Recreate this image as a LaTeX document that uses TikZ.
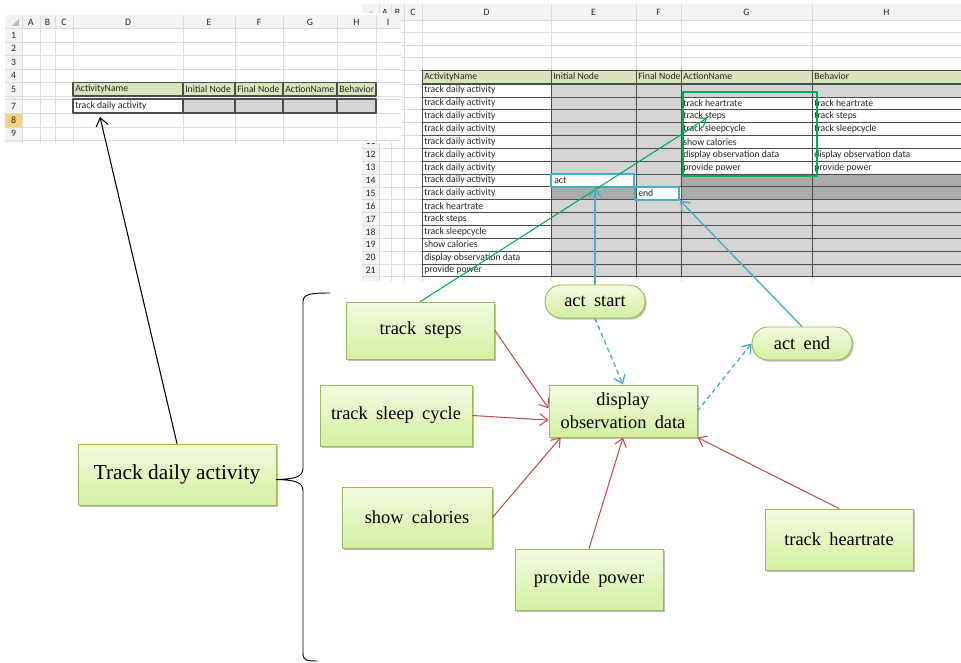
\documentclass[tikz,border=0pt]{standalone}
\usepackage{fontspec}
\setmainfont{Liberation Serif}
\newfontfamily\boxfont{Liberation Serif}[WordSpace=1.8]
\newfontfamily\xlfont{Carlito}
\usetikzlibrary{arrows.meta,shadows}
\definecolor{xlgrid}{HTML}{DADCDD}
\definecolor{xlbar}{HTML}{F3F3F3}
\definecolor{xlhead}{HTML}{D8E4BC}
\definecolor{xlgray}{HTML}{D4D4D4}
\definecolor{xldark}{HTML}{ABABAB}
\definecolor{xlrow}{HTML}{F9D27A}
\definecolor{boxline}{HTML}{9BBB59}
\definecolor{boxtop}{HTML}{F2FBE0}
\definecolor{boxbot}{HTML}{D4F0A2}
\definecolor{redline}{HTML}{C0504D}
\definecolor{blueline}{HTML}{4BACC6}
\definecolor{greenline}{HTML}{00B050}
\tikzset{
  xl/.style={font=\xlfont\fontsize{7.3}{8}\selectfont, inner sep=0pt, text=black!85},
  xlleft/.style={xl, anchor=west},
  cellbox/.style={draw=blueline, line width=1.5pt, minimum height=9.6pt, inner sep=0pt},
  box/.style={draw=boxline, line width=0.7pt, top color=boxtop, bottom color=boxbot,
    drop shadow={shadow xshift=1.2pt, shadow yshift=-1.2pt, fill=black, opacity=0.25},
    minimum width=111pt, minimum height=45.75pt, inner sep=2pt, align=center,
    font=\boxfont\fontsize{13.8}{17}\selectfont},
  pill/.style={box, rounded corners=12pt, minimum width=75pt, minimum height=24.75pt},
  redarrow/.style={->, redline, line width=0.8pt},
  bluearrow/.style={->, blueline, line width=1pt},
}
\begin{document}
\begin{tikzpicture}[x=0.75pt, y=-0.75pt, line join=round, line cap=round, >={Straight Barb[length=6pt,width=9pt]}]
\useasboundingbox (0,0) rectangle (961,663);
\def\rowtop{84} \def\rowh{12.85} % rows 7.. of the right sheet
% right sheet
\fill[xlbar] (362,4) rectangle (961,20);
\fill[xlbar] (362,20) rectangle (379,281);
\fill[gray!50] (365,17) -- (372,17) -- (372,10) -- cycle;
\foreach \x in {379,391,404,422,551,636,681,812} \draw[xlgrid] (\x,4) -- (\x,281);
\foreach \y in {20,32.5,45,57.5,70} \draw[xlgrid] (362,\y) -- (961,\y);
\foreach \r in {7,...,22} \draw[xlgrid] (362,{\rowtop+(\r-7)*\rowh}) -- (422,{\rowtop+(\r-7)*\rowh});
\foreach \c/\x in {A/385,B/397.5,C/413,D/486.5,E/593.5,F/658.5,G/746.5,H/886.5}
  \node[xl] (rc\c) at (\x,12) {\c};
\foreach \r in {11,...,21} \node[xl] (rr\r) at (370.5,{\rowtop+(\r-7)*\rowh+6.4}) {\r};
\fill[xlhead] (422,70) rectangle (961,83);
\fill[xlgray] (551,\rowtop) rectangle (961,276.75);
\fill[white] (681,96.85) rectangle (961,173.95);
\fill[xldark] (681,173.95) rectangle (961,199.65) (551,186.8) rectangle (636,199.65);
\fill[white] (551,173.95) rectangle (636,186.8) (636,186.8) rectangle (681,199.65);
\foreach \x in {422,551,636,681,812} \draw[black!70, line width=0.5pt] (\x,70) -- (\x,276.75);
\draw[black!70, line width=0.5pt] (422,70) -- (961,70) (422,83) -- (961,83);
\foreach \r in {7,...,22} \draw[black!70, line width=0.5pt] (422,{\rowtop+(\r-7)*\rowh}) -- (961,{\rowtop+(\r-7)*\rowh});
\foreach \c/\x/\t in {D/422/ActivityName,E/551/Initial Node,F/636/Final Node,G/681/ActionName,H/812/Behavior}
  \node[xlleft] (hd\c) at ({\x+2},76.5) {\t};
\foreach \r in {7,...,15} \node[xlleft] (rd\r) at (424,{\rowtop+(\r-7)*\rowh+6.4}) {track daily activity};
\foreach \r/\t in {16/track heartrate,17/track steps,18/track sleepcycle,19/show calories,20/display observation data,21/provide power}
  \node[xlleft] (rd\r) at (424,{\rowtop+(\r-7)*\rowh+6.4}) {\t};
\foreach \r/\t in {8/track heartrate,9/track steps,10/track sleepcycle,11/show calories,12/display observation data,13/provide power}
  \node[xlleft] (rg\r) at (683,{\rowtop+(\r-7)*\rowh+6.4}) {\t};
\foreach \r/\t in {8/track heartrate,9/track steps,10/track sleepcycle,12/display observation data,13/provide power}
  \node[xlleft] (rh\r) at (814,{\rowtop+(\r-7)*\rowh+6.4}) {\t};
\node[cellbox, minimum width=62.25pt] (actcell) at (592.5,180.4) {};
\node[cellbox, minimum width=33pt] (endcell) at (657,193.2) {};
\node[xlleft] (acttext) at (554,180.4) {act};
\node[xlleft] (endtext) at (638,193.2) {end};
\draw[greenline, line width=1.4pt] (683,92) rectangle (817,176);
\coordinate (gsteps) at (707,118);
% left sheet, on top
\fill[white] (0,13) rectangle (401,143);
\fill[xlbar] (5,15) rectangle (401,28);
\fill[xlbar] (5,28) rectangle (22,143);
\fill[xlrow] (5,113) rectangle (22,127);
\fill[gray!50] (12,26) -- (19,26) -- (19,19) -- cycle;
\foreach \x in {22,40,55,73,183,235,283,337,376} \draw[xlgrid] (\x,15) -- (\x,143);
\foreach \y in {28,42,55.5,69,82.5,96,99,113,127,140} \draw[xlgrid] (5,\y) -- (401,\y);
\foreach \c/\x in {A/31,B/47.5,C/64,D/128,E/209,F/259,G/310,H/356.5,I/388}
  \node[xl] (lc\c) at (\x,22) {\c};
\foreach \r/\y in {1/35,2/48.75,3/62.25,4/75.75,5/89.25,7/106,8/120,9/133.5}
  \node[xl] (lr\r) at (13.5,\y) {\r};
\fill[xlhead] (73,82.5) rectangle (376,96);
\fill[xlgray] (183,99) rectangle (376,113);
\draw[black!70, line width=0.9pt] (73,82.5) rectangle (376,96) (73,99) rectangle (376,113);
\foreach \x in {183,235,283,337} \draw[black!70, line width=0.9pt] (\x,82.5) -- (\x,96) (\x,99) -- (\x,113);
\foreach \c/\x/\t in {D/73/ActivityName,E/183/Initial Node,F/235/Final Node,G/283/ActionName,H/337/Behavior}
  \node[xlleft] (lh\c) at ({\x+2},89.25) {\t};
\node[xlleft] (ld7) at (75,106) {track daily activity};
\coordinate (lcell) at (100,117);
% diagram
\node[box, minimum height=42.75pt] (steps) at (420.5,330.5) {track steps};
\node[box, minimum width=114pt] (sleep) at (396,415.5) {track sleep cycle};
\node[box, minimum height=39pt] (disp) at (623,411) {display\\observation data};
\node[pill] (actstart) at (595,301.5) {act start};
\node[pill] (actend) at (802,343.5) {act end};
\node[box, minimum width=112.5pt] (cal) at (417,517.5) {show calories};
\node[box] (power) at (589,579.5) {provide power};
\node[box] (heart) at (839,539.5) {track heartrate};
\node[box, minimum width=148.5pt, font=\fontsize{16}{19}\selectfont] (daily) at (177,474.5) {Track daily activity};
\draw[line width=0.7pt] (330,293) .. controls (310,293) and (303,294) .. (303,302) -- (303,468)
  .. controls (303,477) and (295,479) .. (276,479.5) .. controls (295,480) and (303,482) .. (303,491)
  -- (303,653) .. controls (303,660) and (306,661) .. (317,661);
\draw[->, line width=0.8pt] (daily.north) -- (lcell);
\draw[->, greenline, line width=0.8pt] (steps.north) -- (gsteps);
\draw[bluearrow] (actstart.north) -- (actstart.north |- actcell.south);
\draw[bluearrow] (actend.north) -- (endcell.south east);
\draw[bluearrow, dashed] (actstart.south) -- (disp.north);
\draw[bluearrow, dashed] (disp.east) -- (actend.west);
\draw[redarrow] (steps.east) -- (disp.178);
\draw[redarrow] (sleep.east) -- (disp.187);
\draw[redarrow] (cal.east) -- (disp.203);
\draw[redarrow] (power.north) -- (disp.south);
\draw[redarrow] (heart.north) -- (disp.south east);
\end{tikzpicture}
\end{document}
